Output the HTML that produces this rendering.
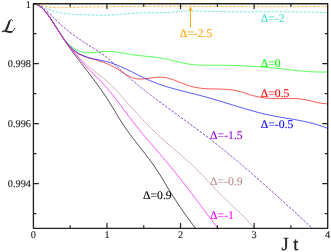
<!DOCTYPE html>
<html><head><meta charset="utf-8"><title>chart</title>
<style>
html,body{margin:0;padding:0;background:#fff;}
body{width:331px;height:252px;overflow:hidden;position:relative;font-family:"Liberation Serif",serif;}
</style></head><body>
<svg width="331" height="252" viewBox="0 0 331 252" style="position:absolute;left:0;top:0;font-family:'Liberation Serif',serif;will-change:transform" text-rendering="geometricPrecision">
<rect x="0" y="0" width="331" height="252" fill="#fff"/>
<defs><clipPath id="c"><rect x="33.4" y="3.7" width="294.3" height="224.6"/></clipPath></defs>
<g clip-path="url(#c)" fill="none" stroke-linejoin="round">
<path d="M33.40 3.70 L34.90 3.95 L36.40 4.39 L37.90 5.03 L39.40 5.88 L40.90 6.96 L42.40 8.28 L43.90 9.83 L45.40 11.57 L46.90 13.48 L48.40 15.50 L49.90 17.62 L51.40 19.82 L52.90 22.08 L54.40 24.39 L55.90 26.74 L57.40 29.11 L58.90 31.49 L60.40 33.87 L61.90 36.22 L63.40 38.54 L64.90 40.82 L66.40 43.05 L67.90 45.24 L69.40 47.38 L70.90 49.49 L72.40 51.56 L73.90 53.60 L75.40 55.62 L76.90 57.61 L78.40 59.59 L79.90 61.55 L81.40 63.50 L82.90 65.44 L84.40 67.38 L85.90 69.32 L87.40 71.26 L88.90 73.21 L90.40 75.17 L91.90 77.15 L93.40 79.14 L94.90 81.16 L96.40 83.20 L97.90 85.26 L99.40 87.36 L100.90 89.49 L102.40 91.65 L103.90 93.85 L105.40 96.08 L106.90 98.35 L108.40 100.67 L109.90 103.02 L111.40 105.42 L112.90 107.86 L114.40 110.36 L115.90 112.88 L117.40 115.40 L118.90 117.88 L120.40 120.28 L121.90 122.62 L123.40 124.90 L124.90 127.11 L126.40 129.27 L127.90 131.38 L129.40 133.45 L130.90 135.48 L132.40 137.48 L133.90 139.45 L135.40 141.39 L136.90 143.32 L138.40 145.24 L139.90 147.15 L141.40 149.06 L142.90 150.97 L144.40 152.89 L145.90 154.82 L147.40 156.78 L148.90 158.76 L150.40 160.77 L151.90 162.83 L153.40 164.92 L154.90 167.07 L156.40 169.27 L157.90 171.54 L159.40 173.87 L160.90 176.27 L162.40 178.73 L163.90 181.24 L165.40 183.76 L166.90 186.28 L168.40 188.78 L169.90 191.24 L171.40 193.67 L172.90 196.05 L174.40 198.40 L175.90 200.71 L177.40 202.99 L178.90 205.23 L180.40 207.44 L181.90 209.62 L183.40 211.78 L184.90 213.90 L186.40 216.00 L187.90 218.07 L189.40 220.12 L190.90 222.15 L192.40 224.16 L193.90 226.15 L195.30 227.99" stroke="#000" stroke-width="0.70"/>
<path d="M33.40 3.70 L34.90 3.86 L36.40 4.28 L37.90 4.95 L39.40 5.86 L40.90 6.99 L42.40 8.34 L43.90 9.88 L45.40 11.60 L46.90 13.47 L48.40 15.48 L49.90 17.60 L51.40 19.81 L52.90 22.09 L54.40 24.42 L55.90 26.79 L57.40 29.16 L58.90 31.53 L60.40 33.87 L61.90 36.16 L63.40 38.39 L64.90 40.53 L66.40 42.57 L67.90 44.48 L69.40 46.25 L70.90 47.86 L72.40 49.30 L73.90 50.60 L75.40 51.75 L76.90 52.79 L78.40 53.70 L79.90 54.52 L81.40 55.24 L82.90 55.89 L84.40 56.46 L85.90 56.99 L87.40 57.47 L88.90 57.92 L90.40 58.35 L91.90 58.78 L93.40 59.20 L94.90 59.63 L96.40 60.06 L97.90 60.51 L99.40 60.97 L100.90 61.45 L102.40 61.95 L103.90 62.48 L105.40 63.04 L106.90 63.64 L108.40 64.27 L109.90 64.95 L111.40 65.67 L112.90 66.44 L114.40 67.26 L115.90 68.14 L117.40 69.06 L118.90 70.02 L120.40 71.00 L121.90 71.97 L123.40 72.94 L124.90 73.88 L126.40 74.78 L127.90 75.63 L129.40 76.40 L130.90 77.10 L132.40 77.69 L133.90 78.17 L135.40 78.53 L136.90 78.79 L138.40 78.95 L139.90 79.03 L141.40 79.03 L142.90 78.97 L144.40 78.86 L145.90 78.70 L147.40 78.51 L148.90 78.30 L150.40 78.08 L151.90 77.86 L153.40 77.66 L154.90 77.47 L156.40 77.32 L157.90 77.21 L159.40 77.16 L160.90 77.17 L162.40 77.25 L163.90 77.42 L165.40 77.65 L166.90 77.95 L168.40 78.31 L169.90 78.72 L171.40 79.18 L172.90 79.68 L174.40 80.20 L175.90 80.76 L177.40 81.33 L178.90 81.92 L180.40 82.51 L181.90 83.10 L183.40 83.69 L184.90 84.26 L186.40 84.81 L187.90 85.33 L189.40 85.82 L190.90 86.27 L192.40 86.68 L193.90 87.04 L195.40 87.36 L196.90 87.64 L198.40 87.88 L199.90 88.09 L201.40 88.27 L202.90 88.42 L204.40 88.55 L205.90 88.65 L207.40 88.74 L208.90 88.81 L210.40 88.86 L211.90 88.91 L213.40 88.95 L214.90 88.99 L216.40 89.02 L217.90 89.06 L219.40 89.09 L220.90 89.14 L222.40 89.20 L223.90 89.27 L225.40 89.35 L226.90 89.45 L228.40 89.58 L229.90 89.73 L231.40 89.90 L232.90 90.10 L234.40 90.34 L235.90 90.61 L237.40 90.91 L238.90 91.26 L240.40 91.64 L241.90 92.07 L243.40 92.54 L244.90 93.03 L246.40 93.53 L247.90 94.04 L249.40 94.53 L250.90 95.00 L252.40 95.44 L253.90 95.85 L255.40 96.23 L256.90 96.57 L258.40 96.88 L259.90 97.17 L261.40 97.42 L262.90 97.65 L264.40 97.85 L265.90 98.02 L267.40 98.17 L268.90 98.29 L270.40 98.39 L271.90 98.47 L273.40 98.52 L274.90 98.55 L276.40 98.57 L277.90 98.58 L279.40 98.57 L280.90 98.56 L282.40 98.54 L283.90 98.52 L285.40 98.50 L286.90 98.49 L288.40 98.48 L289.90 98.48 L291.40 98.49 L292.90 98.52 L294.40 98.57 L295.90 98.64 L297.40 98.74 L298.90 98.86 L300.40 99.02 L301.90 99.21 L303.40 99.43 L304.90 99.69 L306.40 99.98 L307.90 100.30 L309.40 100.64 L310.90 100.99 L312.40 101.35 L313.90 101.70 L315.40 102.05 L316.90 102.38 L318.40 102.70 L319.90 102.98 L321.40 103.23 L322.90 103.45 L324.40 103.61 L325.90 103.72 L327.40 103.77 L327.70 103.77" stroke="#ff0000" stroke-width="0.68"/>
<path d="M33.40 3.70 L34.90 3.93 L36.40 4.38 L37.90 5.04 L39.40 5.91 L40.90 7.00 L42.40 8.30 L43.90 9.82 L45.40 11.53 L46.90 13.40 L48.40 15.43 L49.90 17.57 L51.40 19.81 L52.90 22.12 L54.40 24.48 L55.90 26.86 L57.40 29.23 L58.90 31.56 L60.40 33.83 L61.90 36.00 L63.40 38.05 L64.90 39.98 L66.40 41.77 L67.90 43.40 L69.40 44.87 L70.90 46.20 L72.40 47.37 L73.90 48.41 L75.40 49.32 L76.90 50.11 L78.40 50.78 L79.90 51.33 L81.40 51.79 L82.90 52.15 L84.40 52.43 L85.90 52.62 L87.40 52.74 L88.90 52.79 L90.40 52.79 L91.90 52.73 L93.40 52.63 L94.90 52.50 L96.40 52.34 L97.90 52.17 L99.40 52.00 L100.90 51.84 L102.40 51.69 L103.90 51.58 L105.40 51.49 L106.90 51.44 L108.40 51.43 L109.90 51.45 L111.40 51.52 L112.90 51.63 L114.40 51.77 L115.90 51.94 L117.40 52.14 L118.90 52.37 L120.40 52.61 L121.90 52.87 L123.40 53.14 L124.90 53.41 L126.40 53.68 L127.90 53.95 L129.40 54.21 L130.90 54.45 L132.40 54.68 L133.90 54.90 L135.40 55.10 L136.90 55.28 L138.40 55.46 L139.90 55.63 L141.40 55.79 L142.90 55.94 L144.40 56.10 L145.90 56.25 L147.40 56.40 L148.90 56.55 L150.40 56.71 L151.90 56.87 L153.40 57.04 L154.90 57.23 L156.40 57.42 L157.90 57.63 L159.40 57.85 L160.90 58.09 L162.40 58.35 L163.90 58.63 L165.40 58.93 L166.90 59.24 L168.40 59.57 L169.90 59.91 L171.40 60.27 L172.90 60.62 L174.40 60.98 L175.90 61.34 L177.40 61.70 L178.90 62.05 L180.40 62.40 L181.90 62.73 L183.40 63.05 L184.90 63.36 L186.40 63.65 L187.90 63.91 L189.40 64.15 L190.90 64.36 L192.40 64.55 L193.90 64.70 L195.40 64.83 L196.90 64.93 L198.40 65.02 L199.90 65.08 L201.40 65.13 L202.90 65.17 L204.40 65.19 L205.90 65.20 L207.40 65.21 L208.90 65.21 L210.40 65.20 L211.90 65.20 L213.40 65.20 L214.90 65.20 L216.40 65.21 L217.90 65.22 L219.40 65.23 L220.90 65.24 L222.40 65.26 L223.90 65.28 L225.40 65.30 L226.90 65.32 L228.40 65.35 L229.90 65.39 L231.40 65.42 L232.90 65.46 L234.40 65.50 L235.90 65.55 L237.40 65.60 L238.90 65.65 L240.40 65.71 L241.90 65.77 L243.40 65.83 L244.90 65.90 L246.40 65.97 L247.90 66.05 L249.40 66.13 L250.90 66.21 L252.40 66.30 L253.90 66.39 L255.40 66.49 L256.90 66.59 L258.40 66.69 L259.90 66.80 L261.40 66.91 L262.90 67.03 L264.40 67.15 L265.90 67.28 L267.40 67.41 L268.90 67.55 L270.40 67.69 L271.90 67.83 L273.40 67.98 L274.90 68.14 L276.40 68.29 L277.90 68.46 L279.40 68.62 L280.90 68.79 L282.40 68.95 L283.90 69.12 L285.40 69.29 L286.90 69.46 L288.40 69.63 L289.90 69.80 L291.40 69.96 L292.90 70.13 L294.40 70.29 L295.90 70.45 L297.40 70.60 L298.90 70.75 L300.40 70.89 L301.90 71.03 L303.40 71.16 L304.90 71.29 L306.40 71.40 L307.90 71.51 L309.40 71.61 L310.90 71.71 L312.40 71.79 L313.90 71.86 L315.40 71.92 L316.90 71.97 L318.40 72.01 L319.90 72.04 L321.40 72.05 L322.90 72.05 L324.40 72.04 L325.90 72.01 L327.40 71.96 L327.70 71.95" stroke="#00ff00" stroke-width="0.68"/>
<path d="M33.40 3.70 L34.90 3.97 L36.40 4.42 L37.90 5.06 L39.40 5.91 L40.90 6.98 L42.40 8.27 L43.90 9.80 L45.40 11.52 L46.90 13.41 L48.40 15.44 L49.90 17.59 L51.40 19.83 L52.90 22.13 L54.40 24.47 L55.90 26.83 L57.40 29.19 L58.90 31.53 L60.40 33.84 L61.90 36.09 L63.40 38.25 L64.90 40.32 L66.40 42.27 L67.90 44.08 L69.40 45.75 L70.90 47.28 L72.40 48.69 L73.90 49.97 L75.40 51.14 L76.90 52.21 L78.40 53.17 L79.90 54.05 L81.40 54.83 L82.90 55.54 L84.40 56.17 L85.90 56.74 L87.40 57.25 L88.90 57.70 L90.40 58.12 L91.90 58.49 L93.40 58.83 L94.90 59.15 L96.40 59.46 L97.90 59.75 L99.40 60.04 L100.90 60.33 L102.40 60.64 L103.90 60.96 L105.40 61.30 L106.90 61.68 L108.40 62.09 L109.90 62.54 L111.40 63.02 L112.90 63.53 L114.40 64.07 L115.90 64.64 L117.40 65.24 L118.90 65.85 L120.40 66.49 L121.90 67.15 L123.40 67.83 L124.90 68.52 L126.40 69.22 L127.90 69.94 L129.40 70.66 L130.90 71.40 L132.40 72.14 L133.90 72.88 L135.40 73.62 L136.90 74.37 L138.40 75.11 L139.90 75.85 L141.40 76.58 L142.90 77.31 L144.40 78.02 L145.90 78.72 L147.40 79.41 L148.90 80.08 L150.40 80.74 L151.90 81.37 L153.40 81.99 L154.90 82.58 L156.40 83.16 L157.90 83.72 L159.40 84.26 L160.90 84.79 L162.40 85.30 L163.90 85.79 L165.40 86.28 L166.90 86.75 L168.40 87.20 L169.90 87.65 L171.40 88.08 L172.90 88.51 L174.40 88.93 L175.90 89.33 L177.40 89.74 L178.90 90.13 L180.40 90.52 L181.90 90.90 L183.40 91.28 L184.90 91.66 L186.40 92.03 L187.90 92.41 L189.40 92.78 L190.90 93.15 L192.40 93.52 L193.90 93.90 L195.40 94.27 L196.90 94.65 L198.40 95.04 L199.90 95.43 L201.40 95.82 L202.90 96.22 L204.40 96.63 L205.90 97.04 L207.40 97.46 L208.90 97.89 L210.40 98.32 L211.90 98.75 L213.40 99.19 L214.90 99.63 L216.40 100.08 L217.90 100.53 L219.40 100.98 L220.90 101.44 L222.40 101.89 L223.90 102.35 L225.40 102.81 L226.90 103.27 L228.40 103.73 L229.90 104.19 L231.40 104.65 L232.90 105.11 L234.40 105.57 L235.90 106.03 L237.40 106.49 L238.90 106.94 L240.40 107.39 L241.90 107.84 L243.40 108.29 L244.90 108.73 L246.40 109.16 L247.90 109.60 L249.40 110.02 L250.90 110.45 L252.40 110.86 L253.90 111.27 L255.40 111.68 L256.90 112.08 L258.40 112.47 L259.90 112.85 L261.40 113.23 L262.90 113.59 L264.40 113.95 L265.90 114.30 L267.40 114.64 L268.90 114.97 L270.40 115.29 L271.90 115.60 L273.40 115.90 L274.90 116.19 L276.40 116.47 L277.90 116.74 L279.40 117.00 L280.90 117.26 L282.40 117.52 L283.90 117.77 L285.40 118.02 L286.90 118.27 L288.40 118.52 L289.90 118.77 L291.40 119.02 L292.90 119.28 L294.40 119.54 L295.90 119.80 L297.40 120.07 L298.90 120.35 L300.40 120.63 L301.90 120.93 L303.40 121.23 L304.90 121.55 L306.40 121.88 L307.90 122.22 L309.40 122.57 L310.90 122.95 L312.40 123.33 L313.90 123.74 L315.40 124.16 L316.90 124.61 L318.40 125.07 L319.90 125.56 L321.40 126.07 L322.90 126.60 L324.40 127.16 L325.90 127.75 L327.40 128.36 L327.70 128.48" stroke="#0000ff" stroke-width="0.68"/>
<path d="M33.40 3.70 L34.90 3.92 L36.40 4.36 L37.90 5.01 L39.40 5.88 L40.90 6.97 L42.40 8.29 L43.90 9.83 L45.40 11.57 L46.90 13.46 L48.40 15.49 L49.90 17.63 L51.40 19.85 L52.90 22.12 L54.40 24.43 L55.90 26.76 L57.40 29.10 L58.90 31.44 L60.40 33.76 L61.90 36.05 L63.40 38.28 L64.90 40.45 L66.40 42.55 L67.90 44.55 L69.40 46.45 L70.90 48.29 L72.40 50.06 L73.90 51.78 L75.40 53.46 L76.90 55.11 L78.40 56.75 L79.90 58.35 L81.40 59.91 L82.90 61.43 L84.40 62.90 L85.90 64.31 L87.40 65.65 L88.90 66.94 L90.40 68.17 L91.90 69.36 L93.40 70.51 L94.90 71.64 L96.40 72.75 L97.90 73.87 L99.40 74.99 L100.90 76.13 L102.40 77.30 L103.90 78.50 L105.40 79.76 L106.90 81.07 L108.40 82.44 L109.90 83.87 L111.40 85.34 L112.90 86.86 L114.40 88.42 L115.90 90.02 L117.40 91.65 L118.90 93.30 L120.40 94.97 L121.90 96.66 L123.40 98.36 L124.90 100.07 L126.40 101.78 L127.90 103.49 L129.40 105.19 L130.90 106.87 L132.40 108.54 L133.90 110.20 L135.40 111.85 L136.90 113.48 L138.40 115.09 L139.90 116.69 L141.40 118.28 L142.90 119.85 L144.40 121.41 L145.90 122.95 L147.40 124.48 L148.90 126.00 L150.40 127.49 L151.90 128.98 L153.40 130.45 L154.90 131.91 L156.40 133.35 L157.90 134.77 L159.40 136.18 L160.90 137.58 L162.40 138.96 L163.90 140.33 L165.40 141.68 L166.90 143.02 L168.40 144.34 L169.90 145.65 L171.40 146.95 L172.90 148.23 L174.40 149.50 L175.90 150.76 L177.40 152.03 L178.90 153.29 L180.40 154.55 L181.90 155.82 L183.40 157.10 L184.90 158.39 L186.40 159.69 L187.90 161.02 L189.40 162.36 L190.90 163.73 L192.40 165.12 L193.90 166.54 L195.40 168.00 L196.90 169.48 L198.40 171.00 L199.90 172.54 L201.40 174.10 L202.90 175.67 L204.40 177.26 L205.90 178.86 L207.40 180.47 L208.90 182.08 L210.40 183.70 L211.90 185.31 L213.40 186.91 L214.90 188.51 L216.40 190.09 L217.90 191.65 L219.40 193.20 L220.90 194.73 L222.40 196.23 L223.90 197.72 L225.40 199.19 L226.90 200.63 L228.40 202.06 L229.90 203.47 L231.40 204.87 L232.90 206.28 L234.40 207.68 L235.90 209.09 L237.40 210.51 L238.90 211.94 L240.40 213.40 L241.90 214.87 L243.40 216.37 L244.90 217.88 L246.40 219.42 L247.90 220.97 L249.40 222.54 L250.90 224.13 L252.40 225.74 L253.90 227.37 L254.80 228.35" stroke="#bc8f8f" stroke-width="0.68"/>
<path d="M33.40 3.70 L34.90 3.96 L36.40 4.40 L37.90 5.04 L39.40 5.89 L40.90 6.96 L42.40 8.27 L43.90 9.80 L45.40 11.54 L46.90 13.44 L48.40 15.49 L49.90 17.63 L51.40 19.86 L52.90 22.13 L54.40 24.44 L55.90 26.77 L57.40 29.12 L58.90 31.45 L60.40 33.77 L61.90 36.06 L63.40 38.30 L64.90 40.47 L66.40 42.58 L67.90 44.60 L69.40 46.53 L70.90 48.41 L72.40 50.26 L73.90 52.08 L75.40 53.91 L76.90 55.75 L78.40 57.59 L79.90 59.41 L81.40 61.20 L82.90 62.94 L84.40 64.63 L85.90 66.26 L87.40 67.85 L88.90 69.40 L90.40 70.91 L91.90 72.41 L93.40 73.90 L94.90 75.37 L96.40 76.85 L97.90 78.35 L99.40 79.86 L100.90 81.40 L102.40 82.97 L103.90 84.59 L105.40 86.26 L106.90 87.98 L108.40 89.74 L109.90 91.55 L111.40 93.39 L112.90 95.27 L114.40 97.18 L115.90 99.12 L117.40 101.08 L118.90 103.06 L120.40 105.05 L121.90 107.05 L123.40 109.06 L124.90 111.07 L126.40 113.08 L127.90 115.09 L129.40 117.08 L130.90 119.06 L132.40 121.03 L133.90 122.97 L135.40 124.89 L136.90 126.79 L138.40 128.66 L139.90 130.51 L141.40 132.34 L142.90 134.16 L144.40 135.96 L145.90 137.74 L147.40 139.52 L148.90 141.28 L150.40 143.03 L151.90 144.78 L153.40 146.52 L154.90 148.26 L156.40 150.00 L157.90 151.74 L159.40 153.48 L160.90 155.22 L162.40 156.97 L163.90 158.72 L165.40 160.49 L166.90 162.26 L168.40 164.05 L169.90 165.85 L171.40 167.67 L172.90 169.50 L174.40 171.35 L175.90 173.21 L177.40 175.09 L178.90 176.98 L180.40 178.88 L181.90 180.79 L183.40 182.72 L184.90 184.65 L186.40 186.60 L187.90 188.55 L189.40 190.51 L190.90 192.48 L192.40 194.46 L193.90 196.44 L195.40 198.43 L196.90 200.42 L198.40 202.42 L199.90 204.42 L201.40 206.42 L202.90 208.42 L204.40 210.43 L205.90 212.44 L207.40 214.44 L208.90 216.45 L210.40 218.45 L211.90 220.46 L213.40 222.46 L214.90 224.45 L216.40 226.44 L217.80 228.30" stroke="#ff00ff" stroke-width="0.68"/>
<path d="M33.40 3.70 L34.90 3.90 L36.40 4.27 L37.90 4.80 L39.40 5.50 L40.90 6.35 L42.40 7.36 L43.90 8.52 L45.40 9.79 L46.90 11.15 L48.40 12.57 L49.90 14.02 L51.40 15.50 L52.90 16.98 L54.40 18.47 L55.90 19.94 L57.40 21.40 L58.90 22.83 L60.40 24.23 L61.90 25.59 L63.40 26.93 L64.90 28.22 L66.40 29.48 L67.90 30.70 L69.40 31.89 L70.90 33.05 L72.40 34.18 L73.90 35.29 L75.40 36.37 L76.90 37.42 L78.40 38.46 L79.90 39.47 L81.40 40.48 L82.90 41.46 L84.40 42.44 L85.90 43.40 L87.40 44.36 L88.90 45.31 L90.40 46.25 L91.90 47.20 L93.40 48.15 L94.90 49.10 L96.40 50.07 L97.90 51.06 L99.40 52.07 L100.90 53.10 L102.40 54.17 L103.90 55.28 L105.40 56.43 L106.90 57.63 L108.40 58.88 L109.90 60.17 L111.40 61.50 L112.90 62.86 L114.40 64.24 L115.90 65.64 L117.40 67.04 L118.90 68.44 L120.40 69.84 L121.90 71.22 L123.40 72.58 L124.90 73.93 L126.40 75.26 L127.90 76.57 L129.40 77.88 L130.90 79.17 L132.40 80.44 L133.90 81.70 L135.40 82.95 L136.90 84.19 L138.40 85.42 L139.90 86.63 L141.40 87.84 L142.90 89.03 L144.40 90.22 L145.90 91.40 L147.40 92.56 L148.90 93.72 L150.40 94.87 L151.90 96.02 L153.40 97.15 L154.90 98.28 L156.40 99.41 L157.90 100.53 L159.40 101.64 L160.90 102.75 L162.40 103.86 L163.90 104.96 L165.40 106.06 L166.90 107.15 L168.40 108.25 L169.90 109.34 L171.40 110.43 L172.90 111.52 L174.40 112.61 L175.90 113.70 L177.40 114.79 L178.90 115.88 L180.40 116.97 L181.90 118.06 L183.40 119.15 L184.90 120.24 L186.40 121.34 L187.90 122.44 L189.40 123.54 L190.90 124.64 L192.40 125.74 L193.90 126.85 L195.40 127.96 L196.90 129.08 L198.40 130.20 L199.90 131.32 L201.40 132.45 L202.90 133.58 L204.40 134.72 L205.90 135.87 L207.40 137.01 L208.90 138.17 L210.40 139.33 L211.90 140.50 L213.40 141.67 L214.90 142.85 L216.40 144.04 L217.90 145.23 L219.40 146.43 L220.90 147.63 L222.40 148.84 L223.90 150.05 L225.40 151.28 L226.90 152.50 L228.40 153.73 L229.90 154.97 L231.40 156.21 L232.90 157.46 L234.40 158.71 L235.90 159.96 L237.40 161.22 L238.90 162.49 L240.40 163.76 L241.90 165.04 L243.40 166.31 L244.90 167.60 L246.40 168.89 L247.90 170.18 L249.40 171.47 L250.90 172.77 L252.40 174.08 L253.90 175.38 L255.40 176.70 L256.90 178.01 L258.40 179.33 L259.90 180.65 L261.40 181.98 L262.90 183.30 L264.40 184.63 L265.90 185.97 L267.40 187.31 L268.90 188.65 L270.40 189.99 L271.90 191.33 L273.40 192.68 L274.90 194.03 L276.40 195.38 L277.90 196.74 L279.40 198.10 L280.90 199.46 L282.40 200.82 L283.90 202.18 L285.40 203.55 L286.90 204.91 L288.40 206.28 L289.90 207.65 L291.40 209.02 L292.90 210.40 L294.40 211.77 L295.90 213.15 L297.40 214.52 L298.90 215.90 L300.40 217.28 L301.90 218.66 L303.40 220.04 L304.90 221.42 L306.40 222.80 L307.90 224.18 L309.40 225.56 L310.90 226.94 L312.30 228.23" stroke="#7221bc" stroke-width="0.85" stroke-dasharray="2.5 1.4"/>
<path d="M33.40 3.70 L34.90 3.87 L36.40 4.12 L37.90 4.48 L39.40 4.97 L40.90 5.58 L42.40 6.27 L43.90 7.00 L45.40 7.73 L46.90 8.41 L48.40 9.06 L49.90 9.67 L51.40 10.24 L52.90 10.77 L54.40 11.26 L55.90 11.70 L57.40 12.10 L58.90 12.46 L60.40 12.77 L61.90 13.05 L63.40 13.29 L64.90 13.50 L66.40 13.69 L67.90 13.84 L69.40 13.98 L70.90 14.10 L72.40 14.19 L73.90 14.28 L75.40 14.36 L76.90 14.42 L78.40 14.49 L79.90 14.55 L81.40 14.61 L82.90 14.67 L84.40 14.73 L85.90 14.79 L87.40 14.85 L88.90 14.91 L90.40 14.96 L91.90 15.01 L93.40 15.05 L94.90 15.09 L96.40 15.12 L97.90 15.15 L99.40 15.17 L100.90 15.18 L102.40 15.18 L103.90 15.17 L105.40 15.16 L106.90 15.13 L108.40 15.09 L109.90 15.04 L111.40 14.98 L112.90 14.90 L114.40 14.81 L115.90 14.71 L117.40 14.60 L118.90 14.48 L120.40 14.36 L121.90 14.23 L123.40 14.10 L124.90 13.97 L126.40 13.84 L127.90 13.71 L129.40 13.58 L130.90 13.46 L132.40 13.35 L133.90 13.25 L135.40 13.15 L136.90 13.07 L138.40 13.00 L139.90 12.95 L141.40 12.90 L142.90 12.86 L144.40 12.83 L145.90 12.81 L147.40 12.79 L148.90 12.78 L150.40 12.77 L151.90 12.77 L153.40 12.76 L154.90 12.75 L156.40 12.75 L157.90 12.74 L159.40 12.73 L160.90 12.71 L162.40 12.68 L163.90 12.65 L165.40 12.61 L166.90 12.56 L168.40 12.49 L169.90 12.40 L171.40 12.30 L172.90 12.17 L174.40 12.03 L175.90 11.87 L177.40 11.71 L178.90 11.55 L180.40 11.40 L181.90 11.26 L183.40 11.15 L184.90 11.06 L186.40 10.99 L187.90 10.93 L189.40 10.90 L190.90 10.88 L192.40 10.88 L193.90 10.89 L195.40 10.91 L196.90 10.94 L198.40 10.98 L199.90 11.02 L201.40 11.07 L202.90 11.12 L204.40 11.17 L205.90 11.22 L207.40 11.27 L208.90 11.31 L210.40 11.36 L211.90 11.40 L213.40 11.43 L214.90 11.47 L216.40 11.50 L217.90 11.53 L219.40 11.56 L220.90 11.59 L222.40 11.61 L223.90 11.63 L225.40 11.65 L226.90 11.67 L228.40 11.69 L229.90 11.70 L231.40 11.71 L232.90 11.73 L234.40 11.74 L235.90 11.75 L237.40 11.75 L238.90 11.76 L240.40 11.76 L241.90 11.77 L243.40 11.77 L244.90 11.77 L246.40 11.78 L247.90 11.78 L249.40 11.78 L250.90 11.78 L252.40 11.77 L253.90 11.77 L255.40 11.77 L256.90 11.77 L258.40 11.77 L259.90 11.76 L261.40 11.76 L262.90 11.76 L264.40 11.76 L265.90 11.75 L267.40 11.75 L268.90 11.75 L270.40 11.75 L271.90 11.75 L273.40 11.75 L274.90 11.75 L276.40 11.75 L277.90 11.75 L279.40 11.75 L280.90 11.76 L282.40 11.76 L283.90 11.77 L285.40 11.77 L286.90 11.78 L288.40 11.79 L289.90 11.80 L291.40 11.82 L292.90 11.83 L294.40 11.84 L295.90 11.86 L297.40 11.88 L298.90 11.90 L300.40 11.92 L301.90 11.95 L303.40 11.98 L304.90 12.01 L306.40 12.04 L307.90 12.07 L309.40 12.11 L310.90 12.15 L312.40 12.19 L313.90 12.23 L315.40 12.28 L316.90 12.33 L318.40 12.38 L319.90 12.43 L321.40 12.49 L322.90 12.55 L324.40 12.62 L325.90 12.69 L327.40 12.76 L327.70 12.77" stroke="#40e0d0" stroke-width="0.70" stroke-dasharray="2.7 1.3"/>
<path d="M33.40 3.70 L34.90 3.81 L36.40 4.04 L37.90 4.37 L39.40 4.76 L40.90 5.18 L42.40 5.58 L43.90 5.95 L45.40 6.29 L46.90 6.59 L48.40 6.84 L49.90 7.06 L51.40 7.24 L52.90 7.38 L54.40 7.49 L55.90 7.58 L57.40 7.64 L58.90 7.67 L60.40 7.69 L61.90 7.68 L63.40 7.67 L64.90 7.64 L66.40 7.60 L67.90 7.56 L69.40 7.52 L70.90 7.47 L72.40 7.43 L73.90 7.39 L75.40 7.35 L76.90 7.31 L78.40 7.27 L79.90 7.23 L81.40 7.20 L82.90 7.16 L84.40 7.13 L85.90 7.09 L87.40 7.06 L88.90 7.03 L90.40 6.99 L91.90 6.96 L93.40 6.93 L94.90 6.90 L96.40 6.88 L97.90 6.85 L99.40 6.82 L100.90 6.80 L102.40 6.77 L103.90 6.75 L105.40 6.73 L106.90 6.70 L108.40 6.68 L109.90 6.66 L111.40 6.64 L112.90 6.62 L114.40 6.60 L115.90 6.59 L117.40 6.57 L118.90 6.55 L120.40 6.54 L121.90 6.52 L123.40 6.51 L124.90 6.49 L126.40 6.48 L127.90 6.47 L129.40 6.45 L130.90 6.44 L132.40 6.43 L133.90 6.42 L135.40 6.41 L136.90 6.40 L138.40 6.40 L139.90 6.39 L141.40 6.38 L142.90 6.37 L144.40 6.37 L145.90 6.36 L147.40 6.36 L148.90 6.35 L150.40 6.35 L151.90 6.34 L153.40 6.34 L154.90 6.34 L156.40 6.33 L157.90 6.33 L159.40 6.33 L160.90 6.33 L162.40 6.33 L163.90 6.33 L165.40 6.33 L166.90 6.33 L168.40 6.33 L169.90 6.33 L171.40 6.33 L172.90 6.33 L174.40 6.34 L175.90 6.34 L177.40 6.34 L178.90 6.34 L180.40 6.35 L181.90 6.35 L183.40 6.35 L184.90 6.36 L186.40 6.36 L187.90 6.37 L189.40 6.37 L190.90 6.38 L192.40 6.38 L193.90 6.39 L195.40 6.39 L196.90 6.40 L198.40 6.40 L199.90 6.41 L201.40 6.41 L202.90 6.42 L204.40 6.43 L205.90 6.43 L207.40 6.44 L208.90 6.45 L210.40 6.45 L211.90 6.46 L213.40 6.47 L214.90 6.47 L216.40 6.48 L217.90 6.49 L219.40 6.49 L220.90 6.50 L222.40 6.51 L223.90 6.51 L225.40 6.52 L226.90 6.53 L228.40 6.53 L229.90 6.54 L231.40 6.55 L232.90 6.55 L234.40 6.56 L235.90 6.56 L237.40 6.57 L238.90 6.58 L240.40 6.58 L241.90 6.59 L243.40 6.59 L244.90 6.60 L246.40 6.60 L247.90 6.61 L249.40 6.61 L250.90 6.62 L252.40 6.62 L253.90 6.63 L255.40 6.63 L256.90 6.64 L258.40 6.64 L259.90 6.64 L261.40 6.65 L262.90 6.65 L264.40 6.65 L265.90 6.65 L267.40 6.65 L268.90 6.66 L270.40 6.66 L271.90 6.66 L273.40 6.66 L274.90 6.66 L276.40 6.66 L277.90 6.66 L279.40 6.66 L280.90 6.66 L282.40 6.65 L283.90 6.65 L285.40 6.65 L286.90 6.65 L288.40 6.64 L289.90 6.64 L291.40 6.63 L292.90 6.63 L294.40 6.62 L295.90 6.62 L297.40 6.61 L298.90 6.60 L300.40 6.59 L301.90 6.59 L303.40 6.58 L304.90 6.57 L306.40 6.56 L307.90 6.55 L309.40 6.54 L310.90 6.53 L312.40 6.51 L313.90 6.50 L315.40 6.49 L316.90 6.47 L318.40 6.46 L319.90 6.44 L321.40 6.43 L322.90 6.41 L324.40 6.39 L325.90 6.37 L327.40 6.35 L327.70 6.35" stroke="#ffa500" stroke-width="0.70" stroke-dasharray="2.7 1.3"/>
</g>
<g stroke="#222" fill="none">
<rect x="33.4" y="3.7" width="294.3" height="224.6" stroke-width="1.35" stroke-linejoin="round"/>
<path d="M70.19 228.30v-3.0M70.19 3.70v3.0M106.97 228.30v-5.4M106.97 3.70v5.4M143.76 228.30v-3.0M143.76 3.70v3.0M180.55 228.30v-5.4M180.55 3.70v5.4M217.34 228.30v-3.0M217.34 3.70v3.0M254.13 228.30v-5.4M254.13 3.70v5.4M290.91 228.30v-3.0M290.91 3.70v3.0M33.40 33.70h3.0M327.70 33.70h-3.0M33.40 63.70h5.4M327.70 63.70h-5.4M33.40 93.70h3.0M327.70 93.70h-3.0M33.40 123.70h5.4M327.70 123.70h-5.4M33.40 153.70h3.0M327.70 153.70h-3.0M33.40 183.70h5.4M327.70 183.70h-5.4M33.40 213.70h3.0M327.70 213.70h-3.0" stroke-width="1.2"/>
</g>
<g font-size="10.3" fill="#222" stroke="#222" stroke-width="0.12">
<text x="33.40" y="238.3" text-anchor="middle">0</text>
<text x="106.97" y="238.3" text-anchor="middle">1</text>
<text x="180.55" y="238.3" text-anchor="middle">2</text>
<text x="254.13" y="238.3" text-anchor="middle">3</text>
<text x="327.70" y="238.3" text-anchor="middle">4</text>
<text x="31" y="8.40" text-anchor="end">1</text>
<text x="31" y="67.40" text-anchor="end">0.998</text>
<text x="31" y="127.40" text-anchor="end">0.996</text>
<text x="31" y="187.40" text-anchor="end">0.994</text>
</g>
<text x="281.5" y="250.3" font-size="18.5" fill="#222" stroke="#222" stroke-width="0.3">J t</text>
<g fill="none" stroke="#222" stroke-linecap="round" stroke-linejoin="round">
<path d="M12.6 20.5C12.3 19.5 11 19.3 10.1 20.1C8.7 22.6 8 27.2 5.5 30.5C4.6 31.6 3 32 1.9 31.5C3.6 30.4 5.5 30.9 7.5 31.7C10.2 32.7 13.6 32 14.9 28.3" stroke-width="0.9"/>
<path d="M9.6 21.2C8.5 23.8 7.8 27.2 6.2 29.6" stroke-width="1.9"/>
<path d="M5.2 31C6.6 31.1 8.6 32.2 11.6 31.9" stroke-width="1.7"/>
</g>
<g font-size="11.7">
<text x="260.7" y="67.0" fill="#00ff00" stroke="#00ff00" stroke-width="0.08">Δ=0</text>
<text x="260.7" y="96.5" fill="#ff0000" stroke="#ff0000" stroke-width="0.08">Δ=0.5</text>
<text x="260.7" y="128.0" fill="#0000ff" stroke="#0000ff" stroke-width="0.08">Δ=-0.5</text>
<text x="210.1" y="138.6" fill="#9400d3" stroke="#9400d3" stroke-width="0.08">Δ=-1.5</text>
<text x="143.0" y="199.2" fill="#000" stroke="#000" stroke-width="0.08">Δ=0.9</text>
<text x="209.9" y="185.3" fill="#bc8f8f" stroke="#bc8f8f" stroke-width="0.08">Δ=-0.9</text>
<text x="210.1" y="218.6" fill="#ff00ff" stroke="#ff00ff" stroke-width="0.08">Δ=-1</text>
<text x="179.7" y="36.7" fill="#ffa500" stroke="#ffa500" stroke-width="0.08">Δ=-2.5</text>
<text x="260.7" y="21.7" fill="#40e0d0" stroke="#40e0d0" stroke-width="0.08">Δ=-2</text>
</g>
<path d="M190.5 27.4V8.5" stroke="#ffa500" stroke-width="0.9" fill="none"/>
<path d="M190.5 6.4L188.6 10.8L192.4 10.8Z" fill="#ffa500"/>
</svg>
</body></html>
